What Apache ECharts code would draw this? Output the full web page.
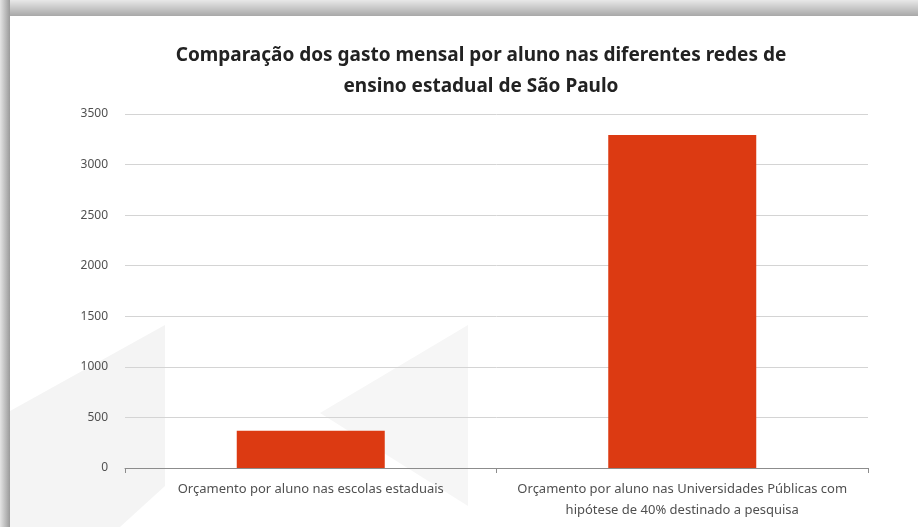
<!DOCTYPE html>
<html>
<head>
<meta charset="utf-8">
<script src="https://cdn.jsdelivr.net/npm/echarts@6/dist/echarts.min.js"></script>
<style>
  html, body { margin: 0; padding: 0; }
  body { width: 918px; height: 527px; overflow: hidden; background: #c9c9c9; position: relative; }
  .frame-top { position: absolute; left: 0; top: 0; width: 918px; height: 16px; background: linear-gradient(#e8e8e8, #a8a8a8); }
  .frame-left { position: absolute; left: 0; top: 0; width: 10px; height: 527px; background: linear-gradient(90deg, #e4e4e4, #9a9a9a); }
  .card { position: absolute; left: 10px; top: 16px; width: 908px; height: 511px; background: #fff; overflow: hidden; }
  .wm { position: absolute; left: 0; top: 0; width: 908px; height: 511px; }
  .wm1 { background: #f4f4f4; clip-path: polygon(0px 395px, 155px 309px, 155px 470px, 110px 511px, 0px 511px); }
  .wm2 { background: #f6f6f6; clip-path: polygon(458px 309px, 458px 490px, 310px 397px); }
  #chart { position: absolute; left: 0; top: 0; width: 918px; height: 527px; }
</style>
</head>
<body>
<div class="frame-top"></div>
<div class="frame-left"></div>
<div class="card">
  <div class="wm wm1"></div>
  <div class="wm wm2"></div>
</div>
<div id="chart"></div>
<script>
const titleText = 'Comparação dos gasto mensal por aluno nas diferentes redes de\nensino estadual de São Paulo'
const categories = [
  'Orçamento por aluno nas escolas estaduais',
  'Orçamento por aluno nas Universidades Públicas com\nhipótese de 40% destinado a pesquisa'
]
const values = [368, 3292]

const chart = echarts.init(document.getElementById('chart'))
chart.setOption({
  animation: false,
  title: {
    text: titleText,
    left: 476,
    top: 35,
    textAlign: 'center',
    textStyle: { fontFamily: 'Noto Sans', fontWeight: 'bold', fontSize: 19, color: '#222', lineHeight: 31 }
  },
  grid: { left: 125, right: 50, top: 114, bottom: 59 },
  xAxis: {
    type: 'category',
    data: categories,
    axisLine: { lineStyle: { color: '#8c8c8c', width: 1 } },
    axisTick: { show: true, length: 5, lineStyle: { color: '#8c8c8c' } },
    axisLabel: { color: '#505050', fontSize: 13, fontFamily: 'Noto Sans', margin: 11, lineHeight: 21, interval: 0 }
  },
  yAxis: {
    type: 'value',
    min: 0,
    max: 3500,
    interval: 500,
    axisLine: { show: false },
    axisTick: { show: false },
    axisLabel: { color: '#505050', fontSize: 12, fontFamily: 'Noto Sans', margin: 17, formatter: v => String(v) },
    splitLine: { lineStyle: { color: '#d4d4d4', width: 1 } }
  },
  series: [{
    type: 'bar',
    data: values,
    barWidth: 148,
    itemStyle: { color: '#dc3a12' }
  }]
})
</script>
</body>
</html>
